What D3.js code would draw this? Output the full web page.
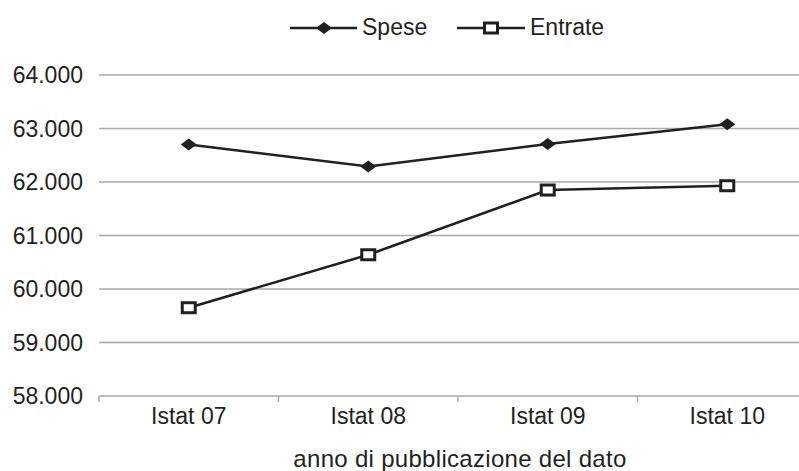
<!DOCTYPE html>
<html>
<head>
<meta charset="utf-8">
<script src="https://cdn.jsdelivr.net/npm/d3@7"></script>
<style>
  body { margin: 0; background: #fff; }
  svg text { font-family: "Liberation Sans", Arial, sans-serif; fill: #231f20; }
</style>
</head>
<body>
<svg id="chart" width="799" height="471"></svg>
<script>
// data
var categories = ["Istat 07", "Istat 08", "Istat 09", "Istat 10"]
var spese = [62.70, 62.29, 62.71, 63.08]
var entrate = [59.65, 60.64, 61.85, 61.93]
var yTicks = [58, 59, 60, 61, 62, 63, 64]

var margin = { top: 75, left: 99 },
    width = 718,
    height = 321

var svg = d3.select("#chart")
var g = svg.append("g")
    .attr("transform", "translate(" + margin.left + "," + margin.top + ")")

var x = d3.scaleBand().domain(categories).range([0, width])
var y = d3.scaleLinear().domain([58, 64]).range([height, 0])

// gridlines
g.selectAll(".grid")
    .data(yTicks.slice(1))
    .enter().append("line")
    .attr("x1", 0)
    .attr("x2", width)
    .attr("y1", (d) => y(d))
    .attr("y2", (d) => y(d))
    .attr("stroke", "#a7a9ac")
    .attr("stroke-width", 1.5)

// y labels
g.selectAll(".ylab")
    .data(yTicks)
    .enter().append("text")
    .attr("x", -16)
    .attr("y", (d) => y(d) + 8)
    .attr("text-anchor", "end")
    .style("font-size", "23px")
    .text((d) => d.toFixed(3))

// x axis
g.append("line")
    .attr("x1", 0).attr("x2", width)
    .attr("y1", height).attr("y2", height)
    .attr("stroke", "#a7a9ac").attr("stroke-width", 1.5)

var bounds = categories.map((c) => x(c)).concat([width])
g.selectAll(".xtick")
    .data(bounds)
    .enter().append("line")
    .attr("x1", (d) => d).attr("x2", (d) => d)
    .attr("y1", height).attr("y2", height + 6)
    .attr("stroke", "#a7a9ac").attr("stroke-width", 1.5)

g.selectAll(".xlab")
    .data(categories)
    .enter().append("text")
    .attr("x", (d) => x(d) + x.bandwidth() / 2)
    .attr("y", height + 28)
    .attr("text-anchor", "middle")
    .style("font-size", "23px")
    .text((d) => d)

svg.append("text")
    .attr("x", 460)
    .attr("y", 467)
    .attr("text-anchor", "middle")
    .style("font-size", "24px")
    .style("letter-spacing", "0.3px")
    .text("anno di pubblicazione del dato")

var line = d3.line()
    .x((d, i) => x(categories[i]) + x.bandwidth() / 2)
    .y((d) => y(d))

function diamond(sel) {
    sel.attr("points", "-8,0 0,-6 8,0 0,6").attr("fill", "#231f20")
}
function square(sel) {
    sel.attr("x", -6.5).attr("y", -5).attr("width", 13).attr("height", 10)
        .attr("fill", "#fff").attr("stroke", "#231f20").attr("stroke-width", 3)
}

// spese
g.append("path").datum(spese)
    .attr("d", line)
    .attr("fill", "none").attr("stroke", "#231f20").attr("stroke-width", 2.5)
g.selectAll(".sp")
    .data(spese)
    .enter().append("polygon")
    .attr("transform", (d, i) => "translate(" + (x(categories[i]) + x.bandwidth() / 2) + "," + y(d) + ")")
    .call(diamond)

// entrate
g.append("path").datum(entrate)
    .attr("d", line)
    .attr("fill", "none").attr("stroke", "#231f20").attr("stroke-width", 2.5)
g.selectAll(".en")
    .data(entrate)
    .enter().append("rect")
    .attr("transform", (d, i) => "translate(" + (x(categories[i]) + x.bandwidth() / 2) + "," + y(d) + ")")
    .call(square)

// legend
var leg = svg.append("g")
leg.append("line").attr("x1", 290).attr("x2", 357).attr("y1", 28).attr("y2", 28)
    .attr("stroke", "#231f20").attr("stroke-width", 2.5)
leg.append("polygon").attr("transform", "translate(324,28)").call(diamond)
leg.append("text").attr("x", 362).attr("y", 35).style("font-size", "23px").text("Spese")

leg.append("line").attr("x1", 457).attr("x2", 525).attr("y1", 28).attr("y2", 28)
    .attr("stroke", "#231f20").attr("stroke-width", 2.5)
leg.append("rect").attr("transform", "translate(491,28)").call(square)
leg.append("text").attr("x", 530).attr("y", 35).style("font-size", "23px").text("Entrate")
</script>
</body>
</html>
